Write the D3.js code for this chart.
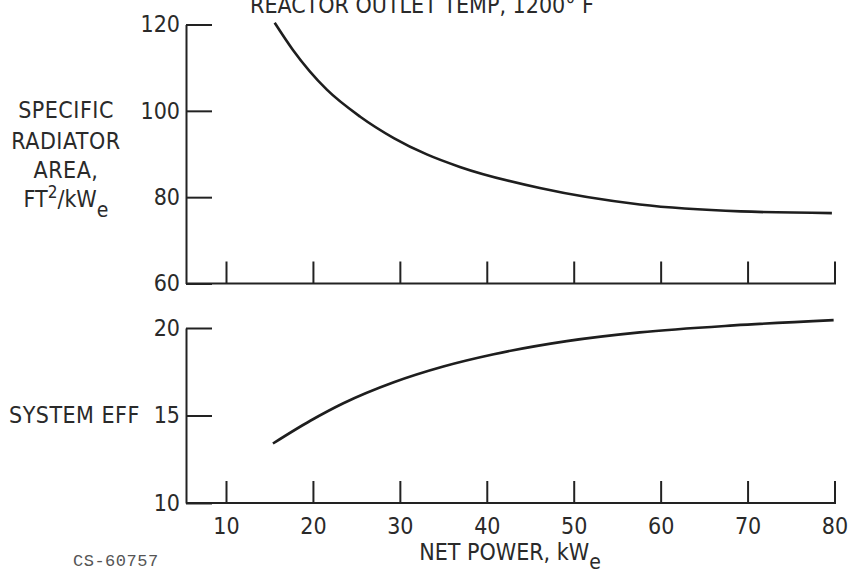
<!DOCTYPE html>
<html>
<head>
<meta charset="utf-8">
<script src="https://cdn.jsdelivr.net/npm/d3@7"></script>
<style>
  body { margin: 0; background: #fff; }
  svg text { font-family: "Liberation Sans Narrow", "Arial Narrow", "DejaVu Sans Condensed", sans-serif; fill: #2a2a2a; }
  .axis path, .axis line { stroke: #222; stroke-width: 2; }
  .curve { fill: none; stroke: #1e1e1e; stroke-width: 2.6; }
</style>
</head>
<body>
<svg class="chart"></svg>
<script>
// net power (kWe) vs specific radiator area (ft2/kWe)
var powerArea = [15.6, 17.7, 21.6, 25.4, 29.3, 33.1, 36.9, 46.1, 57.6, 69.2, 79.7];
var areaValues = [120.4, 114.1, 104.9, 98.7, 93.7, 89.9, 87.0, 82.1, 78.3, 76.7, 76.3];

// net power (kWe) vs system efficiency
var powerEff = [15.4, 19.7, 23.5, 29.3, 35.0, 40.8, 49.2, 57.6, 68.4, 79.9];
var effValues = [13.4, 14.7, 15.7, 16.9, 17.8, 18.5, 19.25, 19.75, 20.15, 20.45];

var powerTicks = [10, 20, 30, 40, 50, 60, 70, 80];
var areaTicks = [60, 80, 100, 120];
var effTicks = [10, 15, 20];

var width = 851, height = 575,
    left = 186, right = 836;

var svg = d3.select(".chart")
    .attr("width", width)
    .attr("height", height);

var x = d3.scaleLinear()
    .domain([10, 80])
    .range([226, 834.5]);

var yArea = d3.scaleLinear()
    .domain([60, 120])
    .range([283.5, 24.5]);

var yEff = d3.scaleLinear()
    .domain([10, 20])
    .range([503, 328]);

function drawPanel(y, ticks, showLabels) {
  var base = y.range()[0];

  var xAxis = d3.axisBottom(x)
      .tickValues(powerTicks)
      .tickSizeInner(-22)
      .tickSizeOuter(0)
      .tickPadding(15)
      .tickFormat(showLabels ? d3.format("d") : "");

  var gx = svg.append("g")
      .attr("class", "axis")
      .attr("transform", "translate(0," + base + ")")
      .call(xAxis);
  gx.select(".domain").remove();
  gx.selectAll("text").style("font-size", "23px").attr("fill", "#2a2a2a");
  gx.append("line")
      .attr("x1", left).attr("x2", right)
      .attr("y1", 0).attr("y2", 0);

  var yAxis = d3.axisLeft(y)
      .tickValues(ticks)
      .tickSizeInner(-26)
      .tickSizeOuter(0)
      .tickPadding(6);

  var gy = svg.append("g")
      .attr("class", "axis")
      .attr("transform", "translate(" + left + ",0)")
      .call(yAxis);
  gy.selectAll("text").style("font-size", "23px").attr("fill", "#2a2a2a");
}

drawPanel(yArea, areaTicks, false);
drawPanel(yEff, effTicks, true);

var areaLine = d3.line()
    .x(function(d, i) { return x(powerArea[i]); })
    .y(function(d) { return yArea(d); })
    .curve(d3.curveMonotoneX);

var effLine = d3.line()
    .x(function(d, i) { return x(powerEff[i]); })
    .y(function(d) { return yEff(d); })
    .curve(d3.curveMonotoneX);

svg.append("path").attr("class", "curve").attr("d", areaLine(areaValues));
svg.append("path").attr("class", "curve").attr("d", effLine(effValues));

// labels
svg.append("text")
    .attr("x", 250).attr("y", 13)
    .style("font-size", "23px")
    .text("REACTOR OUTLET TEMP, 1200° F");

var areaLabel = ["SPECIFIC", "RADIATOR", "AREA,"];
var areaLabelY = [118, 149, 178];
areaLabel.forEach(function(t, i) {
  svg.append("text")
      .attr("x", 66).attr("y", areaLabelY[i])
      .attr("text-anchor", "middle")
      .style("font-size", "23px")
      .style("letter-spacing", "0.5px")
      .text(t);
});

var unit = svg.append("text")
    .attr("x", 66).attr("y", 207)
    .attr("text-anchor", "middle")
    .style("font-size", "23px");
unit.append("tspan").text("FT");
unit.append("tspan").attr("dy", -9).style("font-size", "17px").text("2");
unit.append("tspan").attr("dy", 9).text("/kW");
unit.append("tspan").attr("dy", 10).style("font-size", "21px").text("e");

svg.append("text")
    .attr("x", 9).attr("y", 423)
    .style("font-size", "23px")
    .style("letter-spacing", "0.5px")
    .text("SYSTEM EFF");

var xlab = svg.append("text")
    .attr("x", 510).attr("y", 560)
    .attr("text-anchor", "middle")
    .style("font-size", "23px");
xlab.append("tspan").text("NET POWER,  kW");
xlab.append("tspan").attr("dy", 9).style("font-size", "21px").text("e");

svg.append("text")
    .attr("x", 73).attr("y", 566)
    .style("font-family", "'Liberation Mono', 'DejaVu Sans Mono', monospace")
    .style("font-size", "17px")
    .style("letter-spacing", "0.5px")
    .style("fill", "#555")
    .text("CS-60757");
</script>
</body>
</html>
